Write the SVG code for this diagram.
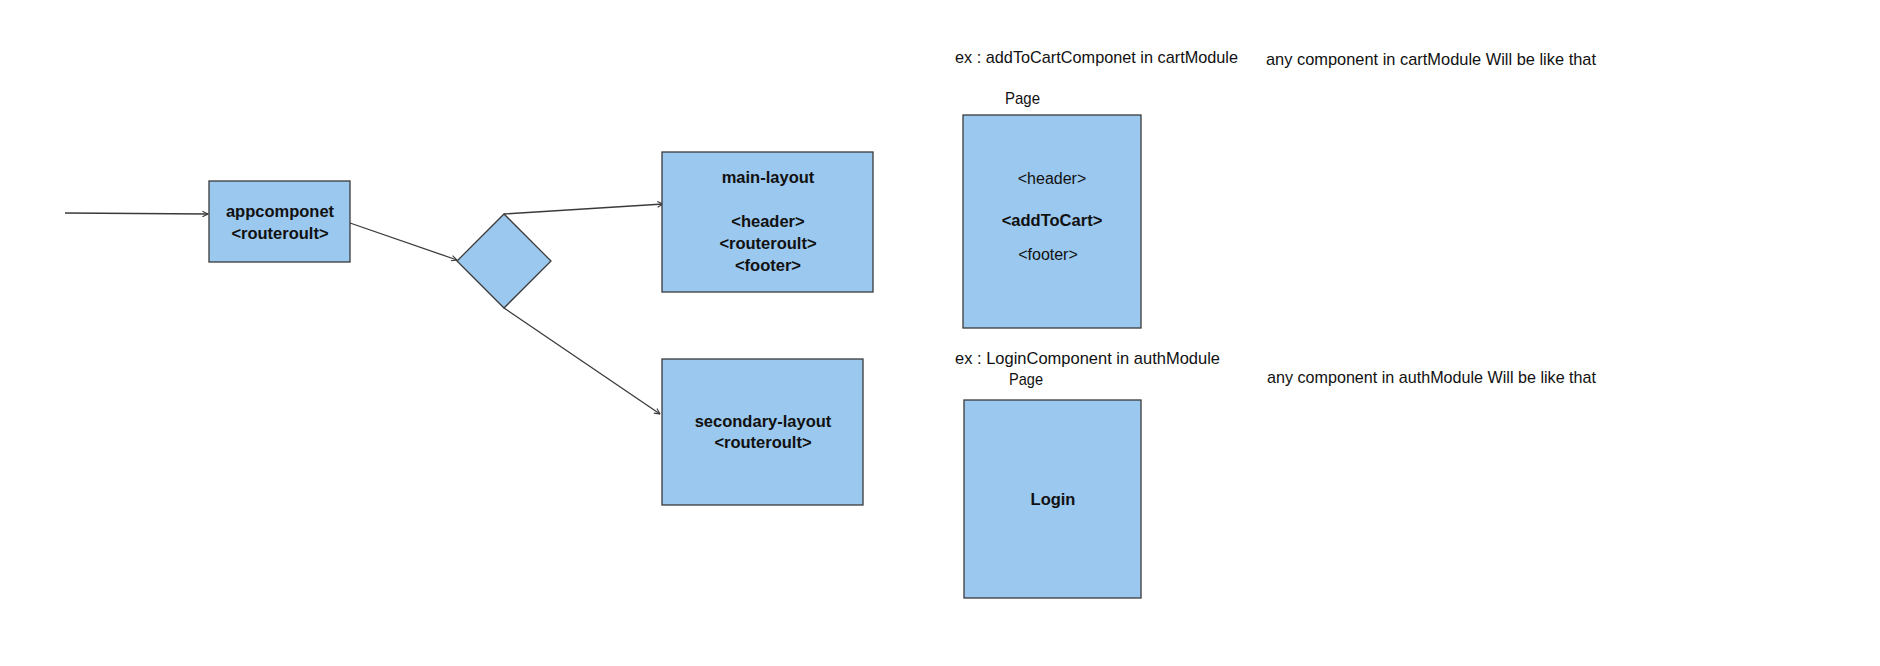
<svg xmlns="http://www.w3.org/2000/svg" width="1880" height="666" viewBox="0 0 1880 666">
  <style>
    .box { fill: #9BC8EE; stroke: #3a3a3a; stroke-width: 1.3; }
    .edge { fill: none; stroke: #3a3a3a; stroke-width: 1.3; marker-end: url(#arrow); }
    .b { font-family: "Liberation Sans", Arial, sans-serif; font-weight: bold; font-size: 16.5px; fill: #111; text-anchor: middle; }
    .r { font-family: "Liberation Sans", Arial, sans-serif; font-size: 16px; fill: #111; text-anchor: middle; }
    .note { font-family: "Liberation Sans", Arial, sans-serif; font-size: 17px; fill: #111; }
  </style>
  <defs>
    <marker id="arrow" viewBox="0 0 10 10" refX="9" refY="5" markerWidth="7" markerHeight="7" markerUnits="userSpaceOnUse" orient="auto">
      <path d="M1,1 L9,5 L1,9" fill="none" stroke="#3a3a3a" stroke-width="1.6"/>
    </marker>
  </defs>
  <rect width="1880" height="666" fill="#ffffff"/>

  <g id="connectors">
    <line class="edge" x1="65" y1="213" x2="208" y2="214"/>
    <line class="edge" x1="350" y1="223" x2="457" y2="260"/>
    <line class="edge" x1="504" y1="214" x2="663" y2="204"/>
    <line class="edge" x1="504" y1="308" x2="660" y2="414"/>
  </g>

  <g id="appcomponet">
    <rect class="box" x="209" y="181" width="141" height="81"/>
    <text class="b" x="280" y="217">appcomponet</text>
    <text class="b" x="280" y="239">&lt;routeroult&gt;</text>
  </g>

  <g id="decision">
    <polygon class="box" points="504,214 551,261 504,308 457,261"/>
  </g>

  <g id="main-layout">
    <rect class="box" x="662" y="152" width="211" height="140"/>
    <text class="b" x="768" y="183">main-layout</text>
    <text class="b" x="768" y="227">&lt;header&gt;</text>
    <text class="b" x="768" y="249">&lt;routeroult&gt;</text>
    <text class="b" x="768" y="271">&lt;footer&gt;</text>
  </g>

  <g id="secondary-layout">
    <rect class="box" x="662" y="359" width="201" height="146"/>
    <text class="b" x="763" y="427">secondary-layout</text>
    <text class="b" x="763" y="448">&lt;routeroult&gt;</text>
  </g>

  <g id="cart-notes">
    <text class="note" x="955" y="63" textLength="283" lengthAdjust="spacingAndGlyphs">ex : addToCartComponet in cartModule</text>
    <text class="note" x="1266" y="65" textLength="330" lengthAdjust="spacingAndGlyphs">any component in cartModule Will be like that</text>
    <text class="note" x="1005" y="104" textLength="35" lengthAdjust="spacingAndGlyphs">Page</text>
  </g>

  <g id="cart-page">
    <rect class="box" x="963" y="115" width="178" height="213"/>
    <text class="r" x="1052" y="184">&lt;header&gt;</text>
    <text class="b" x="1052" y="226">&lt;addToCart&gt;</text>
    <text class="r" x="1048" y="260">&lt;footer&gt;</text>
  </g>

  <g id="auth-notes">
    <text class="note" x="955" y="364" textLength="265" lengthAdjust="spacingAndGlyphs">ex : LoginComponent in authModule</text>
    <text class="note" x="1009" y="385" textLength="34" lengthAdjust="spacingAndGlyphs">Page</text>
    <text class="note" x="1267" y="383" textLength="329" lengthAdjust="spacingAndGlyphs">any component in authModule  Will be like that</text>
  </g>

  <g id="login-page">
    <rect class="box" x="964" y="400" width="177" height="198"/>
    <text class="b" x="1053" y="505">Login</text>
  </g>
</svg>
